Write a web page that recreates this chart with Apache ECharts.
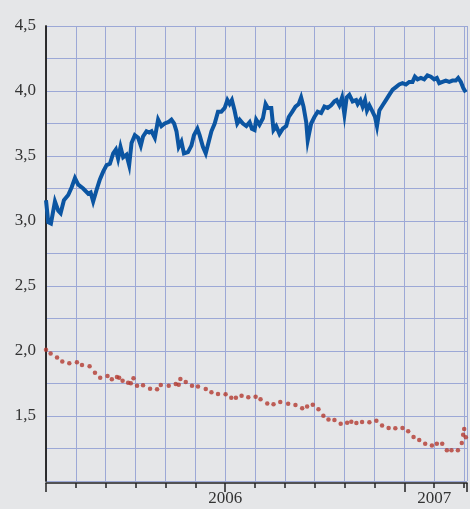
<!DOCTYPE html>
<html>
<head>
<meta charset="utf-8">
<script src="https://cdn.jsdelivr.net/npm/echarts@6/dist/echarts.min.js"></script>
<style>
    html, body { margin: 0; padding: 0; background: #e5e6e8; }
    #chart { width: 470px; height: 509px; }
</style>
</head>
<body>
<div id="chart"></div>
<script>
// x values are months since January 2005
var longMonths = [0, 0.15, 0.33, 0.60, 0.82, 0.98, 1.20, 1.49, 1.72, 1.94, 2.16, 2.49, 2.83, 2.99, 3.16, 3.39,
    3.61, 3.83, 4.06, 4.28, 4.50, 4.68, 4.83, 4.99, 5.17, 5.39, 5.57, 5.73, 5.95, 6.17, 6.35, 6.50, 6.73, 6.91,
    7.07, 7.29, 7.51, 7.73, 7.95, 8.18, 8.40, 8.58, 8.74, 8.89, 9.07, 9.24, 9.51, 9.74, 9.91, 10.14, 10.29,
    10.51, 10.70, 10.90, 11.08, 11.30, 11.52, 11.74, 11.97, 12.15, 12.30, 12.45, 12.63, 12.81, 12.97, 13.19,
    13.42, 13.64, 13.79, 13.97, 14.08, 14.30, 14.53, 14.71, 14.86, 15.09, 15.24, 15.42, 15.64, 15.86, 16.09,
    16.26, 16.49, 16.71, 16.93, 17.09, 17.25, 17.43, 17.53, 17.76, 17.98, 18.20, 18.43, 18.65, 18.87, 19.10,
    19.32, 19.47, 19.65, 19.83, 19.99, 20.14, 20.32, 20.54, 20.77, 20.88, 21.06, 21.21, 21.37, 21.50, 21.66,
    21.88, 22.04, 22.17, 22.33, 22.55, 22.77, 22.99, 23.22, 23.44, 23.66, 23.88, 24.11, 24.33, 24.55, 24.71,
    24.89, 25.11, 25.33, 25.55, 25.78, 26.00, 26.18, 26.34, 26.56, 26.78, 27.01, 27.23, 27.45, 27.61, 27.79,
    27.96, 28.12];
var longRates = [3.16, 2.99, 2.98, 3.15, 3.08, 3.06, 3.16, 3.20, 3.26, 3.33, 3.28, 3.25, 3.21, 3.22, 3.15, 3.24,
    3.32, 3.38, 3.43, 3.44, 3.52, 3.55, 3.48, 3.57, 3.49, 3.51, 3.43, 3.60, 3.66, 3.64, 3.58, 3.65, 3.69, 3.68,
    3.69, 3.64, 3.78, 3.73, 3.75, 3.76, 3.78, 3.75, 3.69, 3.57, 3.61, 3.52, 3.53, 3.58, 3.66, 3.71, 3.66,
    3.57, 3.52, 3.61, 3.69, 3.75, 3.84, 3.84, 3.87, 3.93, 3.90, 3.93, 3.85, 3.75, 3.78, 3.75,
    3.73, 3.76, 3.71, 3.70, 3.78, 3.74, 3.79, 3.90, 3.87, 3.87, 3.70, 3.73, 3.67, 3.71, 3.73,
    3.80, 3.84, 3.88, 3.90, 3.95, 3.88, 3.76, 3.62, 3.75, 3.80, 3.84, 3.83, 3.88, 3.87, 3.89,
    3.92, 3.93, 3.89, 3.95, 3.82, 3.95, 3.97, 3.92, 3.93, 3.90, 3.93, 3.88, 3.93, 3.85, 3.89,
    3.84, 3.80, 3.73, 3.85, 3.89, 3.93, 3.97, 4.01, 4.03, 4.05, 4.06, 4.05, 4.07, 4.07, 4.11,
    4.09, 4.10, 4.09, 4.12, 4.11, 4.09, 4.10, 4.06, 4.07, 4.08, 4.07, 4.08, 4.08, 4.10, 4.07,
    4.02, 3.99];

var shortMonths = [0, 0.31, 0.74, 1.09, 1.56, 2.07, 2.41, 2.92, 3.28, 3.63, 4.12, 4.41, 4.75, 4.90, 5.13, 5.50,
    5.68, 5.86, 6.10, 6.50, 6.97, 7.44, 7.69, 8.22, 8.69, 8.89, 9.00, 9.36, 9.78, 10.18, 10.70, 11.08, 11.52,
    12.03, 12.41, 12.72, 13.10, 13.55, 14.04, 14.37, 14.82, 15.24, 15.69, 16.22, 16.71, 17.16, 17.49, 17.87,
    18.25, 18.58, 18.92, 19.32, 19.74, 20.17, 20.45, 20.79, 21.17, 21.66, 22.13, 22.51, 22.95, 23.40, 23.88,
    24.26, 24.62, 25.00, 25.40, 25.85, 26.18, 26.54, 26.85, 27.16, 27.59, 27.85, 27.94, 28.01, 28.12];
var shortRates = [2.01, 1.98, 1.95, 1.92, 1.905, 1.913, 1.892, 1.882, 1.833, 1.795, 1.808, 1.782, 1.80, 1.795,
    1.772, 1.756, 1.752, 1.79, 1.733, 1.736, 1.71, 1.705, 1.738, 1.733, 1.746, 1.741, 1.785, 1.762, 1.733,
    1.726, 1.708, 1.682, 1.669, 1.667, 1.641, 1.641, 1.656, 1.644, 1.649, 1.628, 1.597, 1.59, 1.608, 1.595,
    1.585, 1.559, 1.574, 1.587, 1.552, 1.502, 1.474, 1.469, 1.441, 1.449, 1.456, 1.446, 1.454, 1.451, 1.464,
    1.426, 1.408, 1.405, 1.408, 1.382, 1.338, 1.315, 1.287, 1.274, 1.287, 1.287, 1.236, 1.236, 1.236, 1.292,
    1.356, 1.40, 1.336];

var yearLabels = { 12: '2006', 26: '2007' };

function pairs(xs, ys) {
    return xs.map(function (x, i) { return [x, ys[i]]; });
}

var serif = '"Liberation Serif", "DejaVu Serif", serif';
var gridColor = '#9ca8d6';

var chart = echarts.init(document.getElementById('chart'));
chart.setOption({
    backgroundColor: '#e5e6e8',
    animation: false,
    grid: { left: 46, right: 2, top: 26, bottom: 28 },
    xAxis: [
        {
            type: 'value', min: 0, max: 28.2, interval: 2, position: 'bottom', offset: 2,
            axisLine: { show: true, lineStyle: { color: '#222', width: 1.5 } },
            axisTick: { show: true, length: 5, lineStyle: { color: '#222', width: 1.5 } },
            axisLabel: {
                show: true, margin: 7, fontFamily: serif, fontSize: 17, color: '#333',
                formatter: function (v) { return yearLabels[v] || ''; }
            },
            splitLine: { show: true, lineStyle: { color: gridColor, width: 1 } }
        },
        {
            type: 'value', min: 0, max: 28.2, interval: 12, position: 'bottom', offset: 2,
            axisLine: { show: false },
            axisTick: { show: true, length: 9, lineStyle: { color: '#222', width: 1.5 } },
            axisLabel: { show: false },
            splitLine: { show: false }
        }
    ],
    yAxis: [
        {
            type: 'value', min: 1, max: 4.5, interval: 0.25,
            axisLine: { show: true, lineStyle: { color: '#222', width: 1.5 } },
            axisTick: { show: false },
            axisLabel: {
                margin: 10, fontFamily: serif, fontSize: 17, color: '#333',
                formatter: function (v) {
                    if (v <= 1 || Math.abs(v * 2 - Math.round(v * 2)) > 1e-6) { return ''; }
                    return v.toFixed(1).replace('.', ',');
                }
            },
            splitLine: { show: true, lineStyle: { color: gridColor, width: 1 } }
        },
        {
            type: 'value', min: 1, max: 4.5, position: 'right',
            axisLine: { show: true, lineStyle: { color: '#222', width: 1.5 } },
            axisTick: { show: false },
            axisLabel: { show: false },
            splitLine: { show: false }
        }
    ],
    series: [
        {
            name: 'long',
            type: 'line',
            data: pairs(longMonths, longRates),
            showSymbol: false,
            lineStyle: { color: '#0b55a2', width: 4, join: 'miter' },
            z: 3
        },
        {
            name: 'short',
            type: 'scatter',
            data: pairs(shortMonths, shortRates),
            symbolSize: 4.5,
            itemStyle: { color: '#b3392f' },
            z: 4
        }
    ]
});
</script>
</body>
</html>
